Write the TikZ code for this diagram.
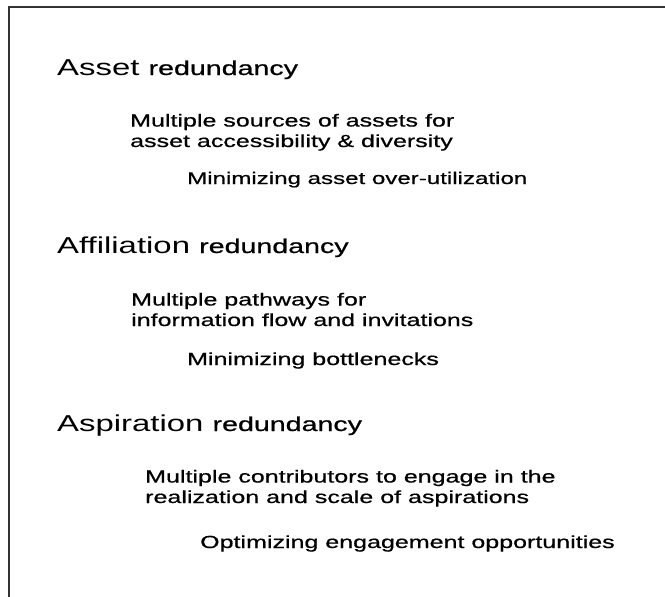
\documentclass[tikz,border=0pt]{standalone}
\usepackage{fontspec}
\setmainfont{Liberation Sans}[FakeStretch=1.43]
\newfontfamily\medfont{Liberation Sans}[FakeStretch=1.43,FakeBold=0.7]
\begin{document}
\begin{tikzpicture}[x=1pt,y=-1pt,
  titletext/.style={anchor=base west,inner sep=0pt,font=\fontsize{23}{27}\selectfont},
  subtext/.style={anchor=base west,inner sep=0pt,align=left,font=\medfont\fontsize{17.5}{20.5}\selectfont},
  mintext/.style={anchor=base west,inner sep=0pt,font=\medfont\fontsize{17.5}{20.5}\selectfont},
  frameline/.style={line width=2pt,draw=black!80}]
\useasboundingbox (0,0) rectangle (665,597);
\coordinate (fr) at (665,7);
\coordinate (fc) at (9,7);
\coordinate (fb) at (9,597);
\draw[frameline] (fr) -- (fc) -- (fb);

\newcommand{\redword}{{\medfont\fontsize{20}{24}\selectfont redundancy}}

\node[titletext] (t1) at (57,75) {Asset \redword};
\node[subtext] (s1) at (130,147) {Multiple sources of assets for\\asset accessibility \& diversity};
\node[mintext,font=\medfont\fontsize{16.85}{20}\selectfont] (m1) at (187,184) {Minimizing asset over-utilization};

\node[titletext] (t2) at (57,253) {Affiliation \redword};
\node[subtext] (s2) at (131,326) {Multiple pathways for\\information flow and invitations};
\node[mintext] (m2) at (187,365) {Minimizing bottlenecks};

\node[titletext] (t3) at (57,431) {Aspiration \redword};
\node[subtext] (s3) at (145,503) {Multiple contributors to engage in the\\realization and scale of aspirations};
\node[mintext] (m3) at (200,548) {Optimizing engagement opportunities};
\end{tikzpicture}
\end{document}
